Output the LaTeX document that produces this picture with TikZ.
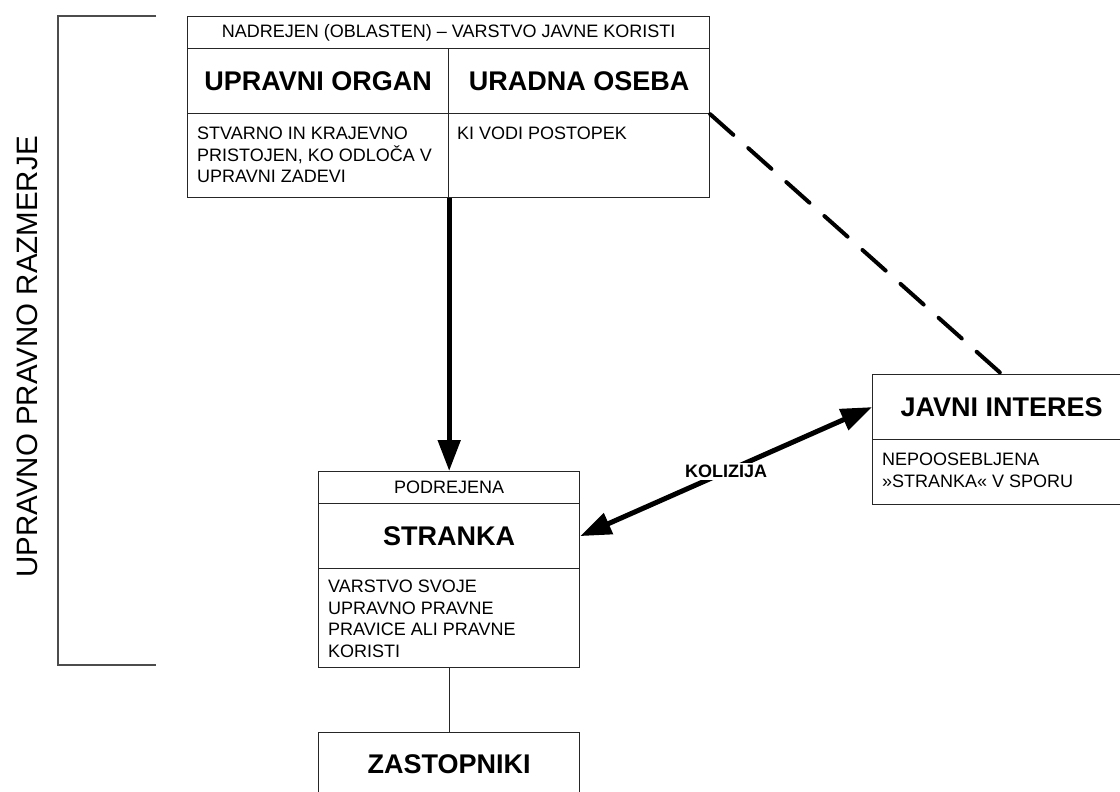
\documentclass[tikz,border=0pt]{standalone}
\usepackage{fontspec}
\setmainfont{Liberation Sans}
\usetikzlibrary{arrows.meta}
\begin{document}
\begin{tikzpicture}[x=1pt,y=-1pt,
  box/.style={draw=black!85, line width=1.2pt, inner sep=0pt, anchor=north west},
  small/.style={font=\fontsize{18}{21.5}\selectfont},
  big/.style={font=\fontsize{27}{32}\selectfont\bfseries},
  bodytext/.style={small, align=left, inner sep=0pt, anchor=north west},
  heavy/.style={line width=5pt, -{Triangle[length=31pt,width=22pt]}},
  heavyboth/.style={line width=5pt, {Triangle[length=31pt,width=22pt]}-{Triangle[length=31pt,width=22pt]}},
  dashline/.style={line width=4pt, line cap=round, dash pattern=on 31pt off 20pt},
  thinline/.style={line width=1pt, black!85},
  bracket/.style={line width=1.3pt, black!70}
]
\useasboundingbox (0,0) rectangle (1120,792);

% left bracket and label
\coordinate (bt) at (156,16);
\coordinate (btc) at (58,16);
\coordinate (bbc) at (58,665);
\coordinate (bb) at (156,665);
\draw[bracket] (bt) -- (btc) -- (bbc) -- (bb);
\node[rotate=90, font=\fontsize{29.5}{34}\selectfont] (rel) at (27,357) {UPRAVNO PRAVNO RAZMERJE};

% top box
\node[box, minimum width=522, minimum height=32, small] (hdr) at (187,16) {NADREJEN (OBLASTEN) – VARSTVO JAVNE KORISTI};
\node[box, minimum width=261, minimum height=65, big] (uo) at (187,48) {UPRAVNI ORGAN};
\node[box, minimum width=261, minimum height=65, big] (uos) at (448,48) {URADNA OSEBA};
\node[box, minimum width=261, minimum height=84] (uob) at (187,113) {};
\node[box, minimum width=261, minimum height=84] (uosb) at (448,113) {};
\node[bodytext] (uobt) at ([shift={(10pt,-14pt)}]uob.north west) {STVARNO IN KRAJEVNO\\PRISTOJEN, KO ODLOČA V\\UPRAVNI ZADEVI};
\node[bodytext] (uosbt) at ([shift={(9pt,-14pt)}]uosb.north west) {KI VODI POSTOPEK};

% stranka
\node[box, minimum width=261, minimum height=32, small] (sh) at (318,471) {PODREJENA};
\node[box, minimum width=261, minimum height=65, big] (st) at (318,503) {STRANKA};
\node[box, minimum width=261, minimum height=99] (sb) at (318,568) {};
\node[bodytext] (sbt) at ([shift={(10pt,-12pt)}]sb.north west) {VARSTVO SVOJE\\UPRAVNO PRAVNE\\PRAVICE ALI PRAVNE\\KORISTI};

% javni interes
\node[box, minimum width=258, minimum height=65, big] (ji) at (872,374) {JAVNI INTERES};
\node[box, minimum width=258, minimum height=65] (jib) at (872,439) {};
\node[bodytext] (jibt) at ([shift={(10pt,-14pt)}]jib.north west) {NEPOOSEBLJENA\\»STRANKA« V SPORU};

% zastopniki
\node[box, minimum width=261, minimum height=63, big] (zas) at (318,732) {ZASTOPNIKI};

% connectors
\draw[heavy] (uob.south east) -- (uob.south east |- sh.north);
\draw[dashline] (uos.south east) -- (ji.north);
\draw[heavyboth] (st.east) -- node[fill=white, inner sep=2pt, font=\fontsize{18}{21}\selectfont\bfseries] (kol) {KOLIZIJA} (ji.west);
\draw[thinline] (sb.south) -- (zas.north);
\end{tikzpicture}
\end{document}
